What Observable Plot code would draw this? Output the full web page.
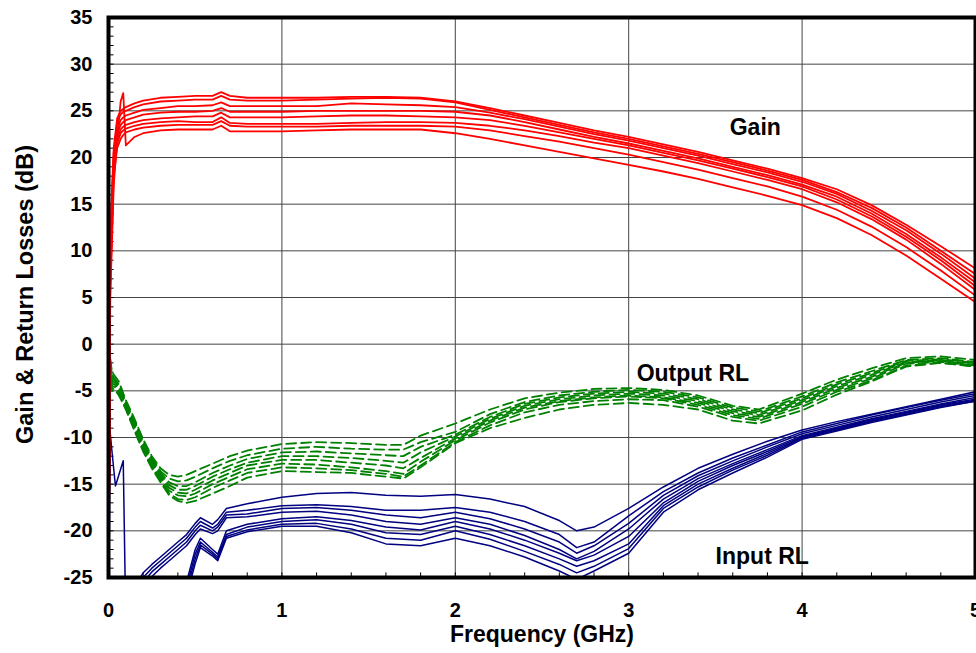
<!DOCTYPE html>
<html>
<head>
<meta charset="utf-8">
<script src="https://cdn.jsdelivr.net/npm/d3@7"></script>
<script src="https://cdn.jsdelivr.net/npm/@observablehq/plot@0.6"></script>
<style>
  html, body { margin: 0; padding: 0; background: #fff; overflow: hidden; }
</style>
</head>
<body>
<div id="chart"></div>
<script>
// ---------- axis ticks ----------
const xTicks = [0, 1, 2, 3, 4, 5];
const yTicks = [-25, -20, -15, -10, -5, 0, 5, 10, 15, 20, 25, 30, 35];

// ---------- Gain (red) ----------
const freqGain = [0, 0.01, 0.03, 0.05, 0.07, 0.085, 0.1, 0.15, 0.2, 0.3, 0.4, 0.5, 0.6, 0.65, 0.7, 0.8, 1.0, 1.2, 1.4, 1.6, 1.8, 2.0, 2.2, 2.4, 2.6, 2.8, 3.0, 3.2, 3.4, 3.6, 3.8, 4.0, 4.2, 4.4, 4.6, 4.8, 5.0];
const gain1 = [-30, 12, 21, 24.2, 25.0, 25.2, 25.4, 25.8, 26.1, 26.4, 26.5, 26.6, 26.6, 27.0, 26.6, 26.4, 26.4, 26.4, 26.5, 26.5, 26.4, 26.0, 25.3, 24.5, 23.7, 22.9, 22.2, 21.4, 20.6, 19.7, 18.8, 17.8, 16.6, 14.9, 12.8, 10.5, 8.1];
const gain2 = [-30, 11, 20.5, 23.8, 24.6, 24.9, 25.0, 25.4, 25.7, 26.0, 26.1, 26.2, 26.2, 26.6, 26.2, 26.1, 26.1, 26.2, 26.3, 26.4, 26.3, 25.9, 25.1, 24.3, 23.5, 22.7, 22.0, 21.2, 20.4, 19.5, 18.6, 17.6, 16.3, 14.6, 12.5, 10.0, 7.5];
const gain3 = [-30, 10, 20, 23.0, 24.0, 24.3, 24.5, 24.8, 25.1, 25.3, 25.5, 25.5, 25.6, 25.9, 25.5, 25.5, 25.5, 25.5, 25.8, 25.7, 25.6, 25.4, 24.8, 24.1, 23.3, 22.5, 21.8, 21.0, 20.2, 19.3, 18.4, 17.4, 16.1, 14.3, 12.2, 9.7, 7.0];
const gain4 = [-30, 9, 19.5, 22.5, 23.5, 23.8, 24.0, 24.3, 24.6, 24.8, 24.9, 24.9, 25.0, 25.3, 24.9, 24.9, 24.9, 25.0, 25.0, 25.0, 25.0, 24.9, 24.5, 23.8, 23.0, 22.2, 21.5, 20.7, 19.9, 19.0, 18.1, 17.1, 15.8, 14.0, 11.8, 9.3, 6.6];
const gain5 = [-30, 8, 19, 22.0, 23.0, 23.3, 23.5, 23.8, 24.0, 24.2, 24.3, 24.4, 24.4, 24.8, 24.3, 24.3, 24.3, 24.4, 24.5, 24.5, 24.4, 24.3, 24.0, 23.4, 22.7, 22.0, 21.3, 20.5, 19.7, 18.8, 17.9, 16.9, 15.5, 13.7, 11.5, 9.0, 6.2];
const gain6 = [-30, 7, 18.5, 21.5, 22.6, 22.9, 23.1, 23.4, 23.6, 23.8, 23.9, 23.8, 23.8, 24.3, 23.7, 23.6, 23.6, 23.6, 23.7, 23.8, 23.8, 23.7, 23.4, 22.9, 22.3, 21.6, 21.0, 20.2, 19.4, 18.5, 17.6, 16.6, 15.2, 13.4, 11.2, 8.6, 5.8];
const gain7 = [-30, 6, 18, 21.0, 22.0, 22.4, 22.7, 23.0, 23.2, 23.4, 23.5, 23.5, 23.5, 23.9, 23.4, 23.3, 23.3, 23.3, 23.4, 23.4, 23.4, 23.3, 22.9, 22.3, 21.7, 21.0, 20.3, 19.5, 18.7, 17.8, 16.9, 15.8, 14.4, 12.6, 10.4, 7.9, 5.2];
const gain8 = [-30, 5, 17, 22.0, 26.0, 26.9, 21.3, 22.2, 22.6, 22.9, 23.0, 23.0, 23.0, 23.4, 22.8, 22.8, 22.8, 22.9, 23.0, 23.0, 23.0, 22.6, 22.0, 21.3, 20.6, 19.9, 19.2, 18.5, 17.7, 16.8, 15.9, 14.9, 13.5, 11.7, 9.5, 7.0, 4.5];

// ---------- Output RL (green, dashed) ----------
const freqOut = [0, 0.02, 0.04, 0.06, 0.1, 0.15, 0.2, 0.25, 0.3, 0.35, 0.4, 0.45, 0.5, 0.6, 0.7, 0.8, 1.0, 1.2, 1.4, 1.6, 1.7, 1.8, 2.0, 2.2, 2.4, 2.6, 2.8, 3.0, 3.2, 3.4, 3.6, 3.75, 4.0, 4.2, 4.4, 4.6, 4.8, 5.0];
const out1 = [0, -3.0, -3.5, -4.0, -6.0, -8.0, -10.2, -12.0, -13.3, -14.0, -14.2, -14.0, -13.6, -12.8, -12.0, -11.4, -10.7, -10.5, -10.6, -10.8, -10.8, -9.8, -8.5, -7.0, -5.8, -5.2, -4.8, -4.7, -4.9, -5.5, -6.6, -7.0, -5.3, -3.8, -2.6, -1.5, -1.3, -1.7];
const out2 = [-0.2, -3.3, -3.8, -4.3, -6.2, -8.2, -10.4, -12.2, -13.6, -14.4, -14.7, -14.6, -14.2, -13.3, -12.5, -11.9, -11.2, -11.0, -11.2, -11.3, -11.3, -10.5, -9.4, -7.5, -6.2, -5.5, -5.1, -4.9, -5.1, -5.7, -6.8, -7.2, -5.6, -4.1, -2.9, -1.7, -1.5, -1.9];
const out3 = [-0.3, -3.6, -4.0, -4.5, -6.4, -8.4, -10.6, -12.4, -13.8, -14.8, -15.2, -15.2, -14.8, -13.8, -13.0, -12.3, -11.6, -11.5, -11.7, -11.9, -12.0, -11.0, -9.7, -7.8, -6.4, -5.7, -5.3, -5.1, -5.3, -5.9, -7.0, -7.4, -5.8, -4.3, -3.1, -1.8, -1.6, -2.0];
const out4 = [-0.4, -3.9, -4.2, -4.7, -6.5, -8.6, -10.8, -12.6, -14.0, -15.1, -15.6, -15.6, -15.2, -14.2, -13.4, -12.7, -12.0, -12.0, -12.2, -12.5, -12.7, -11.6, -9.9, -8.0, -6.6, -5.9, -5.5, -5.3, -5.5, -6.1, -7.2, -7.6, -6.0, -4.5, -3.3, -1.9, -1.7, -2.1];
const out5 = [-0.5, -4.2, -4.4, -4.9, -6.6, -8.8, -11.0, -12.8, -14.2, -15.4, -15.9, -16.0, -15.6, -14.6, -13.8, -13.0, -12.4, -12.4, -12.7, -13.0, -13.3, -12.2, -10.1, -8.2, -6.8, -6.1, -5.7, -5.5, -5.7, -6.3, -7.4, -7.8, -6.2, -4.7, -3.5, -2.0, -1.8, -2.2];
const out6 = [-0.6, -4.5, -4.6, -5.1, -6.8, -9.0, -11.2, -13.0, -14.4, -15.7, -16.2, -16.3, -16.0, -15.0, -14.2, -13.4, -12.8, -12.9, -13.2, -13.6, -13.9, -12.6, -10.3, -8.4, -7.0, -6.2, -5.8, -5.6, -5.8, -6.5, -7.6, -8.0, -6.4, -4.9, -3.7, -2.1, -1.9, -2.3];
const out7 = [-0.7, -4.8, -4.8, -5.3, -6.9, -9.2, -11.4, -13.2, -14.6, -16.0, -16.6, -16.7, -16.4, -15.4, -14.6, -13.8, -13.2, -13.3, -13.5, -13.9, -14.2, -13.0, -10.5, -8.7, -7.3, -6.5, -6.1, -5.9, -6.0, -6.7, -7.8, -8.2, -6.7, -5.1, -3.9, -2.3, -2.0, -2.4];
const out8 = [-0.8, -5.0, -5.0, -5.5, -7.0, -9.3, -11.5, -13.3, -14.8, -16.2, -16.8, -17.0, -16.8, -16.0, -15.2, -14.3, -13.6, -13.7, -13.8, -14.2, -14.4, -13.2, -10.6, -9.0, -7.9, -7.0, -6.5, -6.3, -6.5, -7.0, -8.2, -8.5, -7.1, -5.4, -4.0, -2.4, -2.0, -2.4];

// ---------- Input RL (navy) ----------
const freqIn = [0, 0.01, 0.02, 0.04, 0.06, 0.085, 0.1, 0.15, 0.2, 0.25, 0.3, 0.35, 0.4, 0.45, 0.5, 0.53, 0.6, 0.63, 0.68, 0.8, 1.0, 1.2, 1.4, 1.6, 1.8, 2.0, 2.2, 2.4, 2.6, 2.7, 2.8, 3.0, 3.2, 3.4, 3.6, 3.8, 4.0, 4.2, 4.4, 4.6, 4.8, 5.0];
const in1 = [-30, -30, -30, -30, -30, -30, -30, -26.0, -24.5, -23.6, -22.8, -22.0, -21.2, -20.4, -19.2, -18.6, -19.3, -18.8, -17.6, -17.1, -16.4, -16.0, -15.9, -16.2, -16.3, -16.1, -16.6, -17.4, -18.9, -20.0, -19.6, -17.6, -15.3, -13.3, -11.8, -10.4, -9.2, -8.3, -7.5, -6.7, -5.9, -5.1];
const in2 = [-30, -30, -30, -30, -30, -30, -30, -26.5, -25.0, -24.0, -23.2, -22.4, -21.6, -20.8, -19.6, -19.0, -19.7, -19.3, -18.0, -17.8, -17.3, -17.2, -17.4, -17.8, -17.8, -17.5, -18.0, -19.0, -20.4, -21.8, -21.2, -18.4, -15.8, -13.8, -12.2, -10.8, -9.4, -8.5, -7.6, -6.8, -6.0, -5.3];
const in3 = [-30, -30, -30, -30, -30, -30, -30, -27.0, -25.5, -24.4, -23.6, -22.8, -22.0, -21.2, -20.0, -19.4, -20.0, -19.6, -18.3, -18.2, -17.6, -17.5, -17.8, -18.3, -18.6, -18.0, -18.7, -19.8, -21.2, -22.4, -21.6, -19.2, -16.2, -14.1, -12.5, -11.0, -9.6, -8.7, -7.8, -7.0, -6.2, -5.5];
const in4 = [-30, -30, -30, -30, -30, -30, -30, -28.0, -26.0, -24.9, -24.0, -23.2, -22.4, -21.6, -20.4, -19.8, -20.3, -20.0, -18.6, -18.5, -18.0, -17.9, -18.3, -19.0, -19.3, -18.6, -19.3, -20.5, -22.0, -23.0, -22.2, -19.8, -16.6, -14.4, -12.8, -11.3, -9.8, -8.9, -8.0, -7.2, -6.4, -5.7];
const in5 = [-30, -9.5, -11.5, -15.2, -14.0, -12.5, -30, -30, -30, -30, -30, -30, -30, -25.5, -22.0, -20.8, -22.0, -22.5, -20.0, -19.3, -18.7, -18.5, -18.9, -19.6, -19.9, -19.0, -19.8, -21.0, -22.4, -23.2, -22.6, -20.6, -17.0, -14.7, -13.0, -11.5, -9.9, -9.0, -8.1, -7.3, -6.5, -5.9];
const in6 = [-30, -30, -30, -30, -30, -30, -30, -30, -30, -30, -30, -30, -30, -26.0, -22.5, -21.2, -22.3, -22.8, -20.4, -19.6, -19.0, -18.8, -19.3, -20.2, -20.4, -19.5, -20.4, -21.6, -23.0, -23.8, -23.2, -21.4, -17.3, -15.0, -13.3, -11.7, -10.0, -9.1, -8.2, -7.4, -6.6, -6.0];
const in7 = [-30, -30, -30, -30, -30, -30, -30, -30, -30, -30, -30, -30, -30, -26.5, -23.0, -21.5, -22.5, -23.0, -20.6, -19.9, -19.3, -19.2, -19.8, -20.8, -21.0, -20.0, -20.9, -22.2, -23.6, -24.5, -23.8, -21.9, -17.6, -15.3, -13.5, -11.9, -10.1, -9.2, -8.3, -7.5, -6.7, -6.1];
const in8 = [-30, -30, -30, -30, -30, -30, -30, -30, -30, -30, -30, -30, -30, -27.0, -23.5, -21.8, -22.7, -23.2, -20.8, -20.1, -19.5, -19.5, -20.2, -21.4, -21.6, -20.8, -21.6, -22.8, -24.3, -25.2, -24.3, -22.4, -18.0, -15.6, -13.8, -12.1, -10.2, -9.3, -8.4, -7.6, -6.8, -6.1];

// ---------- annotations ----------
const labelText = ["Gain", "Output RL", "Input RL"];
const labelFreq = [3.73, 3.37, 3.77];
const labelDb = [23.2, -3.2, -22.8];

// ---------- build tables ----------
function rows(freq, curves, group) {
  const out = [];
  curves.forEach((c, k) => c.forEach((v, i) => out.push({f: freq[i], v, curve: group + k})));
  return out;
}
const gainRows = rows(freqGain, [gain1, gain2, gain3, gain4, gain5, gain6, gain7, gain8], "g");
const outRows = rows(freqOut, [out1, out2, out3, out4, out5, out6, out7, out8], "o");
const inRows = rows(freqIn, [in1, in2, in3, in4, in5, in6, in7, in8], "i");
const labels = labelText.map((t, i) => ({t, f: labelFreq[i], v: labelDb[i]}));

const font = "'Liberation Sans', Arial, Helvetica, sans-serif";

const chart = Plot.plot({
  width: 976,
  height: 653,
  marginLeft: 108,
  marginRight: 1,
  marginTop: 17,
  marginBottom: 76,
  style: {fontFamily: font, fontSize: "20px", fontWeight: "bold", color: "black", background: "white", overflow: "visible"},
  x: {domain: [0, 5], ticks: xTicks, tickFormat: d => String(d), tickSize: 0, tickPadding: 25, label: null},
  y: {domain: [-25, 35], ticks: yTicks, tickFormat: d => String(d), tickSize: 0, tickPadding: 16, label: null},
  marks: [
    Plot.ruleY(yTicks, {stroke: "#444", strokeWidth: 1}),
    Plot.ruleX(xTicks, {stroke: "#444", strokeWidth: 1}),
    Plot.ruleX(d3.range(0.2, 5, 0.2), {x: d => d, y1: -25, y2: -24.5, stroke: "black", strokeWidth: 1}),
    Plot.ruleY(d3.range(-24, 35, 1), {y: d => d, x1: 0, x2: 0.032, stroke: "black", strokeWidth: 1}),
    Plot.line(outRows, {x: "f", y: "v", z: "curve", stroke: "#008000", strokeWidth: 1.8, strokeDasharray: "10,5", clip: true}),
    Plot.line(inRows, {x: "f", y: "v", z: "curve", stroke: "#000080", strokeWidth: 1.5, clip: true}),
    Plot.line(gainRows, {x: "f", y: "v", z: "curve", stroke: "#ff0000", strokeWidth: 1.8, clip: true}),
    Plot.frame({stroke: "black", strokeWidth: 4}),
    Plot.text(labels, {x: "f", y: "v", text: "t", fontSize: 23, fontWeight: "bold", fill: "black"}),
    Plot.text(["Frequency (GHz)"], {frameAnchor: "bottom", dy: 64, fontSize: 23, fontWeight: "bold", fill: "black"}),
    Plot.text(["Gain & Return Losses (dB)"], {frameAnchor: "left", textAnchor: "middle", dx: -83, dy: -3, rotate: -90, fontSize: 23.5, fontWeight: "bold", fill: "black"})
  ]
});
document.getElementById("chart").appendChild(chart);
</script>
</body>
</html>
